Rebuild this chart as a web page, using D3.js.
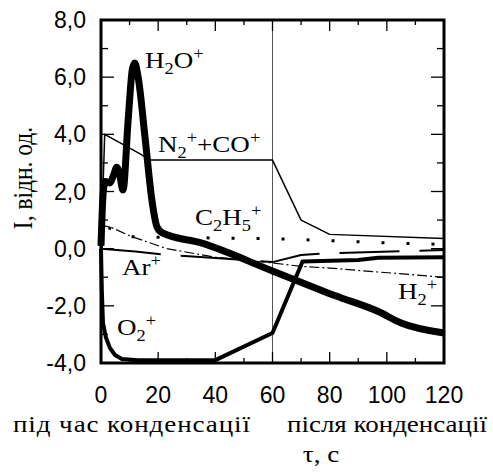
<!DOCTYPE html>
<html lang="uk">
<head>
<meta charset="UTF-8">
<title>I vs tau</title>
<script src="https://d3js.org/d3.v7.min.js"></script>
<style>
    body { margin: 0; background: #fff; }
    svg text { fill: #000; }
    .tick-label { font-family: "Liberation Sans", Arial, sans-serif; font-size: 23px; }
    .ser { font-family: "Liberation Serif", "Times New Roman", serif; font-size: 23.5px; }
</style>
</head>
<body>
<div id="chart"></div>
<script>
    // H2O+
    const tH2O = [0, 0.8, 1.5, 3, 4.5, 5.5, 6.5, 7.7, 9.5, 11, 11.8, 13, 15.5, 17.8, 19.6, 21.5, 35, 60, 82, 97, 105, 120];
    const vH2O = [0.1, 2.0, 2.35, 2.3, 2.6, 2.85, 2.6, 2.05, 4.5, 6.3, 6.5, 6.0, 3.8, 1.7, 0.76, 0.55, 0.2, -0.78, -1.65, -2.2, -2.6, -2.95];
    // N2+ + CO+
    const tN2 = [0, 1.3, 14, 17, 60, 70, 80, 120];
    const vN2 = [0, 4.0, 3.3, 3.1, 3.1, 1.0, 0.5, 0.36];
    // C2H5+
    const tC2H5 = [0, 1.5, 3, 10, 20, 60, 80, 100, 120];
    const vC2H5 = [0, 0.75, 0.72, 0.42, 0.4, 0.35, 0.28, 0.2, 0.15];
    // Ar+
    const tAr = [0, 12, 23, 40, 60, 70, 80, 120];
    const vAr = [0, -0.1, -0.22, -0.33, -0.47, -0.22, -0.16, -0.05];
    // H2+
    const tH2 = [0, 1, 3.5, 10, 23, 40, 60, 70, 80, 120];
    const vH2 = [0, 0.8, 0.75, 0.45, 0.0, -0.3, -0.5, -0.62, -0.68, -1.0];
    // O2+
    const tO2 = [0, 0.3, 0.7, 1.7, 3.1, 4.9, 7.3, 13, 40, 60, 70.5, 90, 97, 120];
    const vO2 = [0, -1.5, -2.6, -3.1, -3.47, -3.72, -3.86, -3.9, -3.9, -2.95, -0.45, -0.4, -0.32, -0.3];

    const xTicks = [0, 20, 40, 60, 80, 100, 120];
    const yTicks = [-4, -2, 0, 2, 4, 6, 8];

    const width = 493, height = 475;
    const sx = 1.15; // the serif text in the original is a bit wide
    const x = d3.scaleLinear().domain([0, 120]).range([101, 444]);
    const y = d3.scaleLinear().domain([-4, 8]).range([363, 20]);

    const svg = d3.select("#chart").append("svg")
        .attr("width", width)
        .attr("height", height);

    const zip = (ts, vs) => ts.map((t, i) => [t, vs[i]]);
    const line = d3.line().x(d => x(d[0])).y(d => y(d[1]));
    const smooth = d3.line().x(d => x(d[0])).y(d => y(d[1])).curve(d3.curveMonotoneX);

    // separator between "during" and "after" condensation
    svg.append("line")
        .attr("x1", x(60)).attr("x2", x(60))
        .attr("y1", y(8)).attr("y2", y(-4))
        .attr("stroke", "#555").attr("stroke-width", 1);

    // ticks, all four sides, pointing in
    const g = svg.append("g").attr("stroke", "#000").attr("stroke-width", 1.3);
    d3.range(0, 121, 10).forEach(t => {
        const len = t % 20 === 0 ? 11 : 5;
        g.append("line").attr("x1", x(t)).attr("x2", x(t)).attr("y1", y(-4)).attr("y2", y(-4) - len);
        g.append("line").attr("x1", x(t)).attr("x2", x(t)).attr("y1", y(8)).attr("y2", y(8) + len);
    });
    d3.range(-4, 8.1, 1).forEach(v => {
        const len = v % 2 === 0 ? 13 : 7;
        g.append("line").attr("x1", x(0)).attr("x2", x(0) + len).attr("y1", y(v)).attr("y2", y(v));
        g.append("line").attr("x1", x(120)).attr("x2", x(120) - len).attr("y1", y(v)).attr("y2", y(v));
    });

    const series = [
        { d: zip(tH2, vH2), gen: line, w: 1.2, dash: "10 3 2 3" },
        { d: zip(tAr, vAr), gen: line, w: 2, dash: "60 20" },
        { d: zip(tC2H5, vC2H5), gen: line, w: 3, dash: "3 22" },
        { d: zip(tN2, vN2), gen: line, w: 1.5, dash: null },
        { d: zip(tO2, vO2), gen: line, w: 4, dash: null },
        { d: zip(tH2O, vH2O), gen: smooth, w: 7, dash: null }
    ];
    series.forEach(s => {
        svg.append("path")
            .attr("d", s.gen(s.d))
            .attr("fill", "none")
            .attr("stroke", "#000")
            .attr("stroke-width", s.w)
            .attr("stroke-linejoin", "round")
            .attr("stroke-dasharray", s.dash);
    });

    // frame
    svg.append("rect")
        .attr("x", x(0)).attr("y", y(8))
        .attr("width", x(120) - x(0)).attr("height", y(-4) - y(8))
        .attr("fill", "none").attr("stroke", "#000").attr("stroke-width", 3);

    // tick labels
    svg.selectAll(".xl").data(xTicks).enter().append("text")
        .attr("class", "tick-label")
        .attr("x", d => x(d)).attr("y", 403)
        .attr("text-anchor", "middle")
        .text(d => d);
    svg.selectAll(".yl").data(yTicks).enter().append("text")
        .attr("class", "tick-label")
        .attr("x", 86).attr("y", d => y(d) + 8)
        .attr("text-anchor", "end")
        .text(d => d.toFixed(1).replace(".", ","));

    // serif text, stretched sideways like the original
    function serif(px, py, anchor, str) {
        return svg.append("text").attr("class", "ser")
            .attr("transform", `translate(${px},${py}) scale(${sx},1)`)
            .attr("text-anchor", anchor)
            .text(str);
    }
    serif(13, 432, "start", "під час конденсації")
        .attr("textLength", 237 / sx).attr("lengthAdjust", "spacing");
    serif(287, 432, "start", "після конденсації")
        .attr("textLength", 200 / sx).attr("lengthAdjust", "spacing");
    serif(321, 462, "middle", "τ, с");
    svg.append("text").attr("class", "ser")
        .attr("transform", `translate(32,178) rotate(-90) scale(1,${sx})`)
        .attr("font-size", 26)
        .attr("text-anchor", "middle").text("I, відн. од.");

    // series labels with sub/superscripts
    function label(px, py, parts) {
        const t = serif(px, py, "start", null);
        let shift = 0;
        parts.forEach(p => {
            const dy = p[1] === "sub" ? 6 : p[1] === "sup" ? -9 : 0;
            t.append("tspan")
                .attr("dy", dy - shift)
                .attr("font-size", p[1] ? 16 : 23.5)
                .text(p[0]);
            shift = dy;
        });
    }
    label(145, 68, [["H"], ["2", "sub"], ["O"], ["+", "sup"]]);
    label(158, 152, [["N"], ["2", "sub"], ["+", "sup"], ["+CO"], ["+", "sup"]]);
    label(195, 225, [["C"], ["2", "sub"], ["H"], ["5", "sub"], ["+", "sup"]]);
    label(122, 275, [["Ar"], ["+", "sup"]]);
    label(117, 335, [["O"], ["2", "sub"], ["+", "sup"]]);
    label(398, 299, [["H"], ["2", "sub"], ["+", "sup"]]);
</script>
</body>
</html>
